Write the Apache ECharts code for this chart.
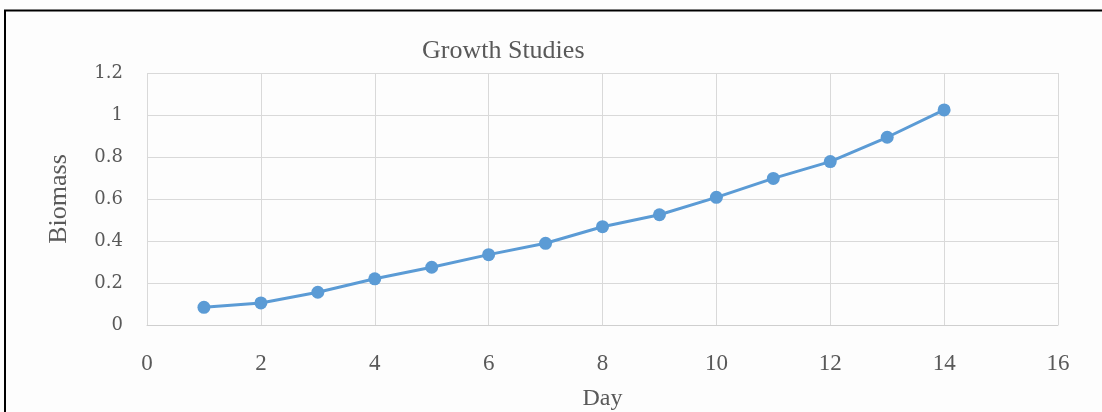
<!DOCTYPE html>
<html>
<head>
<meta charset="utf-8">
<title>Growth Studies</title>
<script src="https://cdn.jsdelivr.net/npm/echarts@6/dist/echarts.min.js"></script>
<style>
  html, body { margin: 0; padding: 0; background: #fdfdfd; }
  #chart { width: 1102px; height: 412px; }
</style>
</head>
<body>
<div id="chart"></div>
<script>
// Biomass measured each day of the growth study
const days = [1, 2, 3, 4, 5, 6, 7, 8, 9, 10, 11, 12, 13, 14];
const biomass = [0.084, 0.105, 0.156, 0.22, 0.275, 0.335, 0.389, 0.468, 0.525, 0.608, 0.698, 0.778, 0.894, 1.024];

const titleText = 'Growth Studies';
const xName = 'Day';
const yName = 'Biomass';

const chart = echarts.init(document.getElementById('chart'), null, { renderer: 'canvas' });

const serif = '"Liberation Serif", "Times New Roman", serif';
const grey = '#595959';
const gridGrey = '#d9d9d9';

chart.setOption({
  backgroundColor: '#fdfdfd',
  animation: false,
  title: {
    text: titleText,
    left: 417,
    top: 33,
    textStyle: { fontFamily: serif, fontSize: 26, fontWeight: 'normal', color: grey }
  },
  graphic: [{
    type: 'rect',
    shape: { x: 5, y: 10.5, width: 1200, height: 500 },
    style: { fill: 'none', stroke: '#000', lineWidth: 2 },
    silent: true
  }],
  grid: { left: 147, right: 44, top: 73, bottom: 87, outerBoundsMode: 'none', containLabel: false },
  xAxis: {
    type: 'value',
    min: 0, max: 16, interval: 2,
    name: xName,
    nameLocation: 'middle',
    nameGap: 62,
    nameTextStyle: { fontFamily: serif, fontSize: 24, color: grey },
    axisLine: { show: true, lineStyle: { color: '#cfcfcf', width: 1 } },
    axisTick: { show: false },
    axisLabel: { fontFamily: serif, fontSize: 23, color: grey, margin: 27 },
    splitLine: { show: true, lineStyle: { color: gridGrey, width: 1 } }
  },
  yAxis: {
    type: 'value',
    min: 0, max: 1.2, interval: 0.2,
    name: yName,
    nameLocation: 'middle',
    nameGap: 75,
    nameTextStyle: { fontFamily: serif, fontSize: 26, color: grey },
    axisLine: { show: false },
    axisTick: { show: false },
    axisLabel: { fontFamily: '"DejaVu Serif", serif', fontSize: 18, color: grey, margin: 24 },
    splitLine: { show: true, lineStyle: { color: gridGrey, width: 1 } }
  },
  series: [{
    type: 'line',
    data: days.map((d, i) => [d, biomass[i]]),
    symbol: 'circle',
    symbolSize: 13,
    lineStyle: { color: '#5b9bd5', width: 3 },
    itemStyle: { color: '#5b9bd5' }
  }]
});
</script>
</body>
</html>
